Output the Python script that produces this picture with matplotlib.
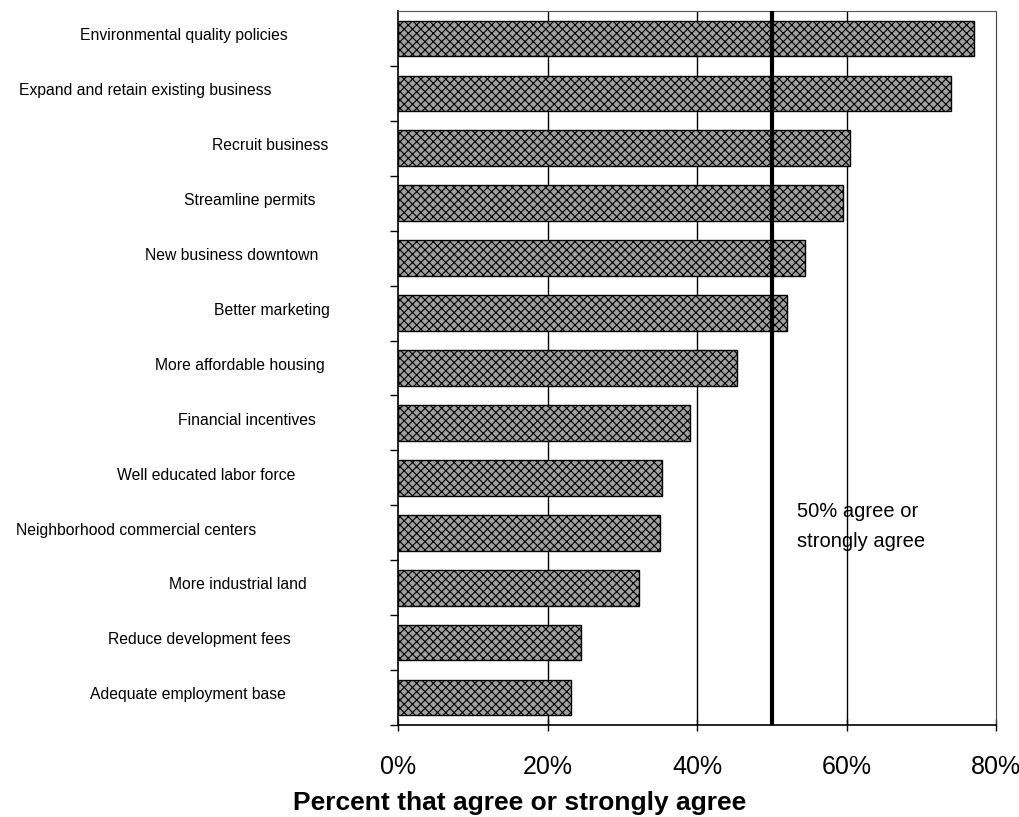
import matplotlib
matplotlib.use("Agg")
import matplotlib.pyplot as plt
from matplotlib.transforms import blended_transform_factory

# survey items, top to bottom, and share that agree or strongly agree (%)
items = [
    "Environmental quality policies",
    "Expand and retain existing business",
    "Recruit business",
    "Streamline permits",
    "New business downtown",
    "Better marketing",
    "More affordable housing",
    "Financial incentives",
    "Well educated labor force",
    "Neighborhood commercial centers",
    "More industrial land",
    "Reduce development fees",
    "Adequate employment base",
]
pct_agree = [77, 74, 60.5, 59.5, 54.5, 52, 45.3, 39, 35.3, 35, 32.2, 24.5, 23.2]
xticks = [0, 20, 40, 60, 80]
threshold = 50

# horizontal centre of each category label (figure pixels)
label_cx = [184, 145, 270, 250, 232, 272, 240, 247, 206, 136, 238, 199, 188]

plt.rcParams["font.family"] = ["Liberation Sans", "DejaVu Sans"]

W, H = 1020, 817
fig = plt.figure(figsize=(W / 100, H / 100), dpi=100)
ax = fig.add_axes([398 / W, 1 - 725 / H, (996 - 398) / W, (725 - 11) / H])

ypos = list(range(len(items)))
plt.rcParams["hatch.linewidth"] = 0.8
ax.barh(ypos, pct_agree, height=0.65, color="#a0a0a0", edgecolor="black",
        linewidth=1.0, hatch="xxxx", zorder=3)

ax.set_xlim(0, 80)
ax.set_ylim(len(items) - 0.5, -0.5)

# vertical gridlines at 20/40/60
for g in xticks[1:-1]:
    ax.axvline(g, color="black", linewidth=1.0, zorder=1)

# 50% reference line
ax.axvline(threshold, color="black", linewidth=3.0, zorder=4)
ax.text(53.4, 8.88, "50% agree or\nstrongly agree", fontsize=14.5,
        ha="left", va="center", linespacing=1.75, zorder=5)

ax.set_xticks(xticks)
ax.set_xticklabels([f"{t}%" for t in xticks], fontsize=18)
ax.tick_params(axis="x", direction="inout", length=9, width=1, pad=17)

# tick marks between categories, labels drawn separately
ax.set_yticks([i + 0.5 for i in range(len(items))])
ax.set_yticklabels([])
ax.tick_params(axis="y", direction="out", length=6, width=1)

ax.spines["left"].set_linewidth(1.2)
ax.spines["bottom"].set_linewidth(1.2)
ax.spines["top"].set_linewidth(0.8)
ax.spines["top"].set_color("#555555")
ax.spines["right"].set_linestyle((0, (1, 1)))
ax.spines["right"].set_color("#444444")

trans = blended_transform_factory(fig.transFigure, ax.transData)
for y, name, cx in zip(ypos, items, label_cx):
    ax.text(cx / W, y - 0.05, name, transform=trans, ha="center", va="center",
            fontsize=11.3, clip_on=False)

fig.text(520 / W, 1 - 803 / H, "Percent that agree or strongly agree",
         ha="center", va="center", fontsize=19, fontweight="bold")

fig.savefig("out.png", dpi=100, facecolor="white")
